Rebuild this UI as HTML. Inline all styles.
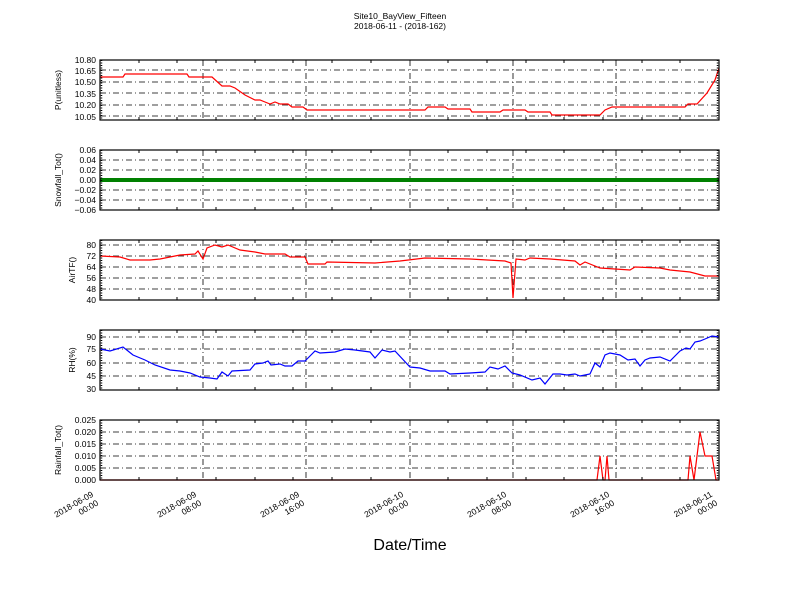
<!DOCTYPE html>
<html><head><meta charset="utf-8"><style>body{margin:0;background:#fff}svg{display:block}text{font-family:"Liberation Sans",sans-serif;fill:#000}</style></head><body>
<svg width="800" height="600" viewBox="0 0 800 600" xmlns="http://www.w3.org/2000/svg">
<rect width="800" height="600" fill="#fff"/>
<text x="400" y="19" font-size="8.5" text-anchor="middle">Site10_BayView_Fifteen</text>
<text x="400" y="29" font-size="8.5" text-anchor="middle">2018-06-11 - (2018-162)</text>
<g id="grids" stroke="#000" stroke-width="0.8" stroke-dasharray="6,3,1,3" fill="none">
<path d="M203 60V120M306 60V120M410 60V120M513 60V120M616 60V120 M100 70H719M100 82H719M100 93H719M100 105H719M100 116H719"/>
<path d="M203 150V210M306 150V210M410 150V210M513 150V210M616 150V210 M100 160H719M100 170H719M100 180H719M100 190H719M100 200H719"/>
<path d="M203 240V300M306 240V300M410 240V300M513 240V300M616 240V300 M100 245H719M100 256H719M100 267H719M100 278H719M100 289H719"/>
<path d="M203 330V390M306 330V390M410 330V390M513 330V390M616 330V390 M100 337H719M100 349H719M100 363H719M100 376H719"/>
<path d="M203 420V480M306 420V480M410 420V480M513 420V480M616 420V480 M100 432H719M100 444H719M100 456H719M100 468H719"/>
</g>
<g fill="none" stroke-width="1.2">
<polyline stroke="#f00" points="100,77 123,77 125,74 187,74 189,77 212,77 222,86 230,86 235,88 245,95 255,100 260,100 265,102 270,104 275,102 280,104 288,104 292,107 303,107 307,110 425,110 428,107 445,107 448,109 470,109 472,112 500,112 503,110 525,110 528,112 550,112 552,115 600,115 605,110 612,107 685,107 688,104 697,104 707,93 715,80 719,68"/>
<line x1="100" y1="180" x2="719" y2="180" stroke="#008000" stroke-width="4"/>
<polyline stroke="#f00" points="100,256 120,257 130,260 150,260 160,259 170,257 180,255 195,254 198,251 203,259 207,248 215,245 222,247 228,245 240,250 255,252 265,254 285,254 290,257 300,257 305,257 308,264 325,264 327,262 375,263 400,261 425,258 470,259 505,261 511,263 513,298 516,259 525,260 530,258 550,259 575,261 580,265 585,262 600,268 630,270 635,267 660,268 670,270 690,272 705,276 719,276"/>
<polyline stroke="#00f" points="100,349 110,351 123,347 133,355 145,360 155,365 170,370 180,371 190,373 200,377 210,378 217,379 222,372 228,376 232,371 250,370 255,364 263,363 268,361 271,365 280,364 285,366 292,366 298,361 305,361 310,356 315,351 320,353 335,352 345,349 355,350 370,352 375,358 382,350 390,352 395,351 410,367 420,368 430,371 445,371 450,374 470,373 485,372 490,367 498,369 505,366 512,373 520,375 532,380 540,378 545,384 553,374 560,374 567,375 575,374 580,376 590,374 595,363 600,367 605,355 610,353 620,355 628,360 635,359 640,366 645,360 650,358 660,357 670,361 675,356 680,351 686,348 690,349 695,342 700,341 705,339 712,336 719,337"/>
<polyline stroke="#f00" points="100,480 597,480 600,456 603,480 605,480 607,456 609,480 688,480 690,456 694,480 700,432 705,456 712,456 716,480 719,480"/>
</g>
<g fill="none" stroke="#000" stroke-width="1.2">
<rect x="100" y="60" width="619" height="60"/><rect x="100" y="150" width="619" height="60"/><rect x="100" y="240" width="619" height="60"/><rect x="100" y="330" width="619" height="60"/><rect x="100" y="420" width="619" height="60"/>
</g>
<g stroke="#000" stroke-width="1">
<path d="M139 60v3M177 60v3M216 60v3M255 60v3M293 60v3M332 60v3M371 60v3M448 60v3M487 60v3M526 60v3M564 60v3M603 60v3M642 60v3M680 60v3 M139 120v-3M177 120v-3M216 120v-3M255 120v-3M293 120v-3M332 120v-3M371 120v-3M448 120v-3M487 120v-3M526 120v-3M564 120v-3M603 120v-3M642 120v-3M680 120v-3"/>
<path d="M139 150v3M177 150v3M216 150v3M255 150v3M293 150v3M332 150v3M371 150v3M448 150v3M487 150v3M526 150v3M564 150v3M603 150v3M642 150v3M680 150v3 M139 210v-3M177 210v-3M216 210v-3M255 210v-3M293 210v-3M332 210v-3M371 210v-3M448 210v-3M487 210v-3M526 210v-3M564 210v-3M603 210v-3M642 210v-3M680 210v-3"/>
<path d="M139 240v3M177 240v3M216 240v3M255 240v3M293 240v3M332 240v3M371 240v3M448 240v3M487 240v3M526 240v3M564 240v3M603 240v3M642 240v3M680 240v3 M139 300v-3M177 300v-3M216 300v-3M255 300v-3M293 300v-3M332 300v-3M371 300v-3M448 300v-3M487 300v-3M526 300v-3M564 300v-3M603 300v-3M642 300v-3M680 300v-3"/>
<path d="M139 330v3M177 330v3M216 330v3M255 330v3M293 330v3M332 330v3M371 330v3M448 330v3M487 330v3M526 330v3M564 330v3M603 330v3M642 330v3M680 330v3 M139 390v-3M177 390v-3M216 390v-3M255 390v-3M293 390v-3M332 390v-3M371 390v-3M448 390v-3M487 390v-3M526 390v-3M564 390v-3M603 390v-3M642 390v-3M680 390v-3"/>
<path d="M139 420v3M177 420v3M216 420v3M255 420v3M293 420v3M332 420v3M371 420v3M448 420v3M487 420v3M526 420v3M564 420v3M603 420v3M642 420v3M680 420v3 M139 480v-3M177 480v-3M216 480v-3M255 480v-3M293 480v-3M332 480v-3M371 480v-3M448 480v-3M487 480v-3M526 480v-3M564 480v-3M603 480v-3M642 480v-3M680 480v-3"/>
</g>
<g stroke="#000" stroke-width="1.5" stroke-dasharray="1,1.5">
<path d="M101.5 60V120M101.5 150V210M101.5 240V300M101.5 330V390M101.5 420V480"/>
<path d="M717.5 60V120M717.5 150V210M717.5 240V300M717.5 330V390M717.5 420V480"/>
</g>
<g font-size="8.5" text-anchor="end">
<text x="96" y="63">10.80</text><text x="96" y="74">10.65</text><text x="96" y="85">10.50</text><text x="96" y="97">10.35</text><text x="96" y="108">10.20</text><text x="96" y="120">10.05</text>
<text x="96" y="153">0.06</text><text x="96" y="163">0.04</text><text x="96" y="173">0.02</text><text x="96" y="183">0.00</text><text x="96" y="193">−0.02</text><text x="96" y="203">−0.04</text><text x="96" y="213">−0.06</text>
<text x="96" y="248">80</text><text x="96" y="259">72</text><text x="96" y="270">64</text><text x="96" y="281">56</text><text x="96" y="292">48</text><text x="96" y="303">40</text>
<text x="96" y="340">90</text><text x="96" y="352">75</text><text x="96" y="366">60</text><text x="96" y="379">45</text><text x="96" y="392">30</text>
<text x="96" y="423">0.025</text><text x="96" y="435">0.020</text><text x="96" y="447">0.015</text><text x="96" y="459">0.010</text><text x="96" y="471">0.005</text><text x="96" y="483">0.000</text>
</g>
<g font-size="8.5" text-anchor="middle">
<text transform="translate(61,90) rotate(-90)">P(unitless)</text>
<text transform="translate(61,180) rotate(-90)">Snowfall_Tot()</text>
<text transform="translate(75,270) rotate(-90)">AirTF()</text>
<text transform="translate(75,360) rotate(-90)">RH(%)</text>
<text transform="translate(61,450) rotate(-90)">Rainfall_Tot()</text>
</g>
<g font-size="8.5" text-anchor="end">
<g transform="translate(94,496) rotate(-30)"><text x="0" y="0">2018-06-09</text><text x="0" y="10">00:00</text></g>
<g transform="translate(197,496) rotate(-30)"><text x="0" y="0">2018-06-09</text><text x="0" y="10">08:00</text></g>
<g transform="translate(300,496) rotate(-30)"><text x="0" y="0">2018-06-09</text><text x="0" y="10">16:00</text></g>
<g transform="translate(404,496) rotate(-30)"><text x="0" y="0">2018-06-10</text><text x="0" y="10">00:00</text></g>
<g transform="translate(507,496) rotate(-30)"><text x="0" y="0">2018-06-10</text><text x="0" y="10">08:00</text></g>
<g transform="translate(610,496) rotate(-30)"><text x="0" y="0">2018-06-10</text><text x="0" y="10">16:00</text></g>
<g transform="translate(713,496) rotate(-30)"><text x="0" y="0">2018-06-11</text><text x="0" y="10">00:00</text></g>
</g>
<text x="410" y="550" font-size="16" text-anchor="middle">Date/Time</text>
</svg>
</body></html>
